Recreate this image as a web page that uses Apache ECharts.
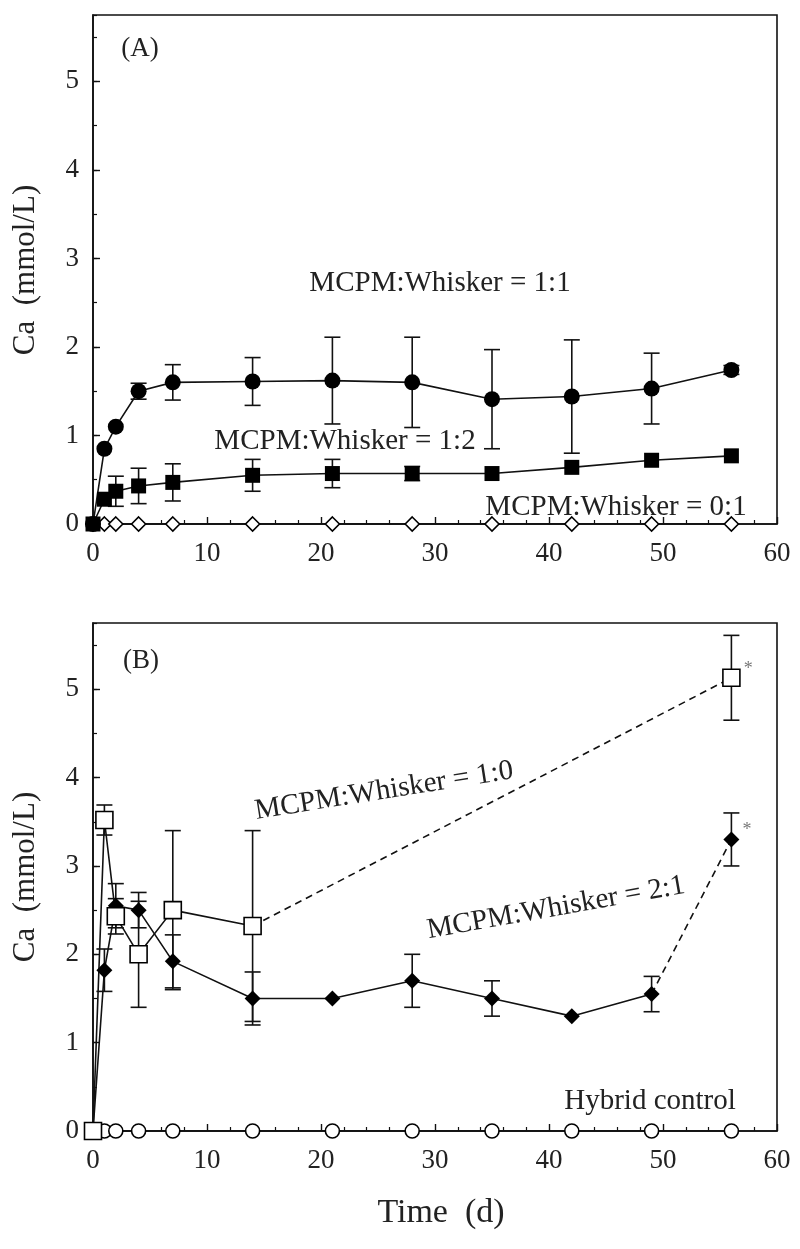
<!DOCTYPE html>
<html><head><meta charset="utf-8">
<script src="https://cdn.jsdelivr.net/npm/echarts@6/dist/echarts.min.js"></script>
<style>html,body{margin:0;padding:0;background:#fff}#c{width:800px;height:1249px}</style>
</head><body><div id="c"></div>
<script>
// ---- data ----
const days = [0, 1, 2, 4, 7, 14, 21, 28, 35, 42, 49, 56];
// Panel A
const a11 = [0, 0.85, 1.10, 1.50, 1.60, 1.61, 1.62, 1.60, 1.41, 1.44, 1.53, 1.74];
const a11Err = [0, 0, 0, 0.09, 0.20, 0.27, 0.49, 0.51, 0.56, 0.64, 0.40, 0.05];
const a12 = [0, 0.28, 0.37, 0.43, 0.47, 0.55, 0.57, 0.57, 0.57, 0.64, 0.72, 0.77];
const a12Err = [0, 0, 0.17, 0.20, 0.21, 0.18, 0.16, 0.08, 0, 0, 0, 0];
const a01 = [0, 0, 0, 0, 0, 0, 0, 0, 0, 0, 0, 0];
// Panel B
const daysB10 = [0, 1, 2, 4, 7, 14, 56];
const b10 = [0, 3.52, 2.43, 2.00, 2.50, 2.32, 5.13];
const b10Err = [0, 0.17, 0.20, 0.60, 0.90, 1.08, 0.48];
const b21 = [0, 1.82, 2.55, 2.50, 1.92, 1.50, 1.50, 1.70, 1.50, 1.30, 1.55, 3.30];
const b21Err = [0, 0.24, 0.25, 0.20, 0.30, 0.30, 0, 0.30, 0.20, 0, 0.20, 0.30];
const bHybrid = [0, 0, 0, 0, 0, 0, 0, 0, 0, 0, 0, 0];
const yMax = 5.75;

// ---- helpers ----
const SERIF = '"Liberation Serif","DejaVu Serif",serif';
const pairs = (xs, ys) => xs.map((x, i) => [x, ys[i]]);

function errSeries(gi, xs, vals, errs) {
  const data = [];
  xs.forEach((x, i) => { if (errs[i] > 0) data.push([x, vals[i] - errs[i], vals[i] + errs[i]]); });
  return {
    type: 'custom', xAxisIndex: gi, yAxisIndex: gi * 2, data, z: 2, silent: true,
    encode: { x: 0, y: [1, 2] },
    renderItem(params, api) {
      const x = api.value(0), lo = api.value(1), hi = api.value(2);
      const p1 = api.coord([x, lo]), p2 = api.coord([x, hi]);
      const w = 8, st = { stroke: '#111', lineWidth: 1.6 };
      return { type: 'group', children: [
        { type: 'line', shape: { x1: p1[0], y1: p1[1], x2: p2[0], y2: p2[1] }, style: st },
        { type: 'line', shape: { x1: p1[0] - w, y1: p1[1], x2: p1[0] + w, y2: p1[1] }, style: st },
        { type: 'line', shape: { x1: p2[0] - w, y1: p2[1], x2: p2[0] + w, y2: p2[1] }, style: st }
      ]};
    }
  };
}
function lineSeries(gi, data, symbol, size, filled, dashed) {
  return {
    type: 'line', xAxisIndex: gi, yAxisIndex: gi * 2, data, z: 3, silent: true,
    symbol, symbolSize: size, showSymbol: true,
    lineStyle: { color: '#111', width: 1.6, type: dashed ? [7, 5] : 'solid' },
    itemStyle: { color: filled ? '#000' : '#fff', borderColor: '#000', borderWidth: filled ? 0 : 1.6 },
    emphasis: { disabled: true }, animation: false
  };
}

const grids = [
  { left: 93, right: 23, top: 15, height: 509, show: true, borderColor: '#111', borderWidth: 1.6 },
  { left: 93, right: 23, top: 623, height: 508, show: true, borderColor: '#111', borderWidth: 1.6 }
];
const xAxes = [0, 1].map(gi => ({
  type: 'value', gridIndex: gi, min: 0, max: 60, interval: 10,
  axisLine: { lineStyle: { color: '#111', width: 1.6 } },
  axisTick: { inside: true, length: 7, lineStyle: { color: '#111', width: 1.4 } },
  minorTick: { show: true, splitNumber: 5, length: 4, lineStyle: { color: '#111', width: 1.2 } },
  splitLine: { show: false },
  axisLabel: { fontFamily: SERIF, fontSize: 27, color: '#222', margin: 16 }
}));
const yAxes = [];
[0, 1].forEach(gi => {
  yAxes.push({
    type: 'value', gridIndex: gi, position: 'left', min: 0, max: yMax, interval: 1,
    axisLine: { show: true, lineStyle: { color: '#111', width: 1.6 } },
    axisTick: { show: true, inside: true, length: 7, lineStyle: { color: '#111', width: 1.4 } },
    splitLine: { show: false },
    axisLabel: { fontFamily: SERIF, fontSize: 27, color: '#222', margin: 14, showMaxLabel: false }
  });
  yAxes.push({
    type: 'value', gridIndex: gi, position: 'left', offset: 0, min: 0, max: yMax, interval: 0.5,
    axisLine: { show: false },
    axisTick: { show: true, inside: true, length: 4, lineStyle: { color: '#111', width: 1.2 } },
    splitLine: { show: false }, axisLabel: { show: false }
  });
});

// Panel B split into solid and dashed segments
const starLabel = { show: true, formatter: '*', position: 'right', offset: [-2, -9], fontSize: 18, color: '#777', fontFamily: SERIF };
const b10Solid = pairs(daysB10.slice(0, 6), b10.slice(0, 6));
const b10Dash = pairs(daysB10.slice(5), b10.slice(5)).map((p, i) => i === 0
  ? { value: p, symbol: 'none' } : { value: p, label: starLabel });
const b21Solid = pairs(days.slice(0, 11), b21.slice(0, 11));
const b21Dash = pairs(days.slice(10), b21.slice(10)).map((p, i) => i === 0
  ? { value: p, symbol: 'none' } : { value: p, label: starLabel });

const series = [
  errSeries(0, days, a11, a11Err),
  errSeries(0, days, a12, a12Err),
  lineSeries(0, pairs(days, a01), 'diamond', 14, false),
  lineSeries(0, pairs(days, a12), 'rect', 15, true),
  lineSeries(0, pairs(days, a11), 'circle', 16, true),
  errSeries(1, daysB10, b10, b10Err),
  errSeries(1, days, b21, b21Err),
  lineSeries(1, pairs(days, bHybrid), 'circle', 14, false),
  lineSeries(1, b21Solid, 'diamond', 16, true),
  lineSeries(1, b21Dash, 'diamond', 16, true, true),
  lineSeries(1, b10Solid, 'rect', 17, false),
  lineSeries(1, b10Dash, 'rect', 17, false, true)
];

function txt(x, y, text, size, rot) {
  return { type: 'text', x, y, rotation: (rot || 0) * Math.PI / 180, silent: true, z: 10,
    style: { text, font: size + 'px ' + SERIF, fill: '#222', align: 'center', verticalAlign: 'middle' } };
}
const graphic = [
  txt(140, 49, '(A)', 27),
  txt(141, 661, '(B)', 27),
  txt(440, 283, 'MCPM:Whisker = 1:1', 29),
  txt(345, 441, 'MCPM:Whisker = 1:2', 29),
  txt(616, 507, 'MCPM:Whisker = 0:1', 29),
  txt(384, 791, 'MCPM:Whisker = 1:0', 29, 9),
  txt(556, 908, 'MCPM:Whisker = 2:1', 29, 10),
  txt(650, 1101, 'Hybrid control', 29),
  txt(441, 1213, 'Time  (d)', 34),
  txt(26, 270, 'Ca  (mmol/L)', 31, 90),
  txt(26, 877, 'Ca  (mmol/L)', 31, 90)
];

const chart = echarts.init(document.getElementById('c'), null, { renderer: 'canvas' });
chart.setOption({
  animation: false, backgroundColor: '#fff',
  grid: grids, xAxis: xAxes, yAxis: yAxes, series, graphic
});
</script></body></html>
